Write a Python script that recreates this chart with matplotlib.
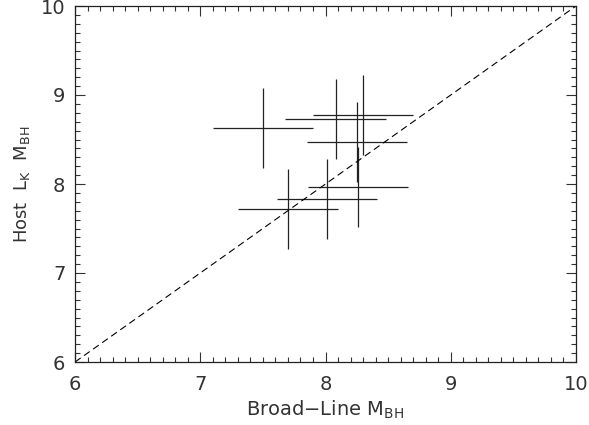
import matplotlib
matplotlib.use("Agg")
import matplotlib.pyplot as plt
from matplotlib.ticker import MultipleLocator

# Data
broad_line_mbh = [7.50, 8.08, 8.30, 8.25, 7.70, 8.01, 8.26]
host_lk_mbh    = [8.63, 8.73, 8.78, 8.47, 7.72, 7.83, 7.97]
x_err = [0.40, 0.40, 0.40, 0.40, 0.40, 0.40, 0.40]
y_err = [0.45, 0.45, 0.45, 0.45, 0.45, 0.45, 0.45]
one_to_one = [6, 10]

plt.rcParams['font.family'] = ['DejaVu Sans']
plt.rcParams['mathtext.fontset'] = 'dejavusans'
plt.rcParams['lines.scale_dashes'] = False

fig = plt.figure(figsize=(5.89, 4.25), dpi=100)
ax = fig.add_axes([75/589, 63/425, (576-75)/589, (362-6)/425])

ax.errorbar(broad_line_mbh, host_lk_mbh, xerr=x_err, yerr=y_err,
            fmt='none', ecolor='#222222', elinewidth=0.9, capsize=0)
ax.plot(one_to_one, one_to_one, color='black', lw=0.8, dashes=(5, 3))

ax.set_xlim(6, 10)
ax.set_ylim(6, 10)
ax.xaxis.set_major_locator(MultipleLocator(1))
ax.xaxis.set_minor_locator(MultipleLocator(0.1))
ax.yaxis.set_major_locator(MultipleLocator(1))
ax.yaxis.set_minor_locator(MultipleLocator(0.1))
ax.tick_params(which='both', direction='in', top=True, right=True,
               color='#333333', width=0.8)
ax.tick_params(which='major', length=7, labelsize=14, pad=9, labelcolor='#333333')
ax.tick_params(axis='y', which='major', pad=7)
ax.tick_params(which='minor', length=3.5)
for s in ax.spines.values():
    s.set_linewidth(0.9)
    s.set_color('#222222')

ax.set_xlabel(r'Broad$-$Line M$_\mathrm{BH}$', fontsize=14, color='#333333', labelpad=4)
ax.set_ylabel(r'Host  L$_\mathrm{K}$  M$_\mathrm{BH}$', fontsize=13, color='#333333', labelpad=6)

fig.savefig('out.png', dpi=100)
